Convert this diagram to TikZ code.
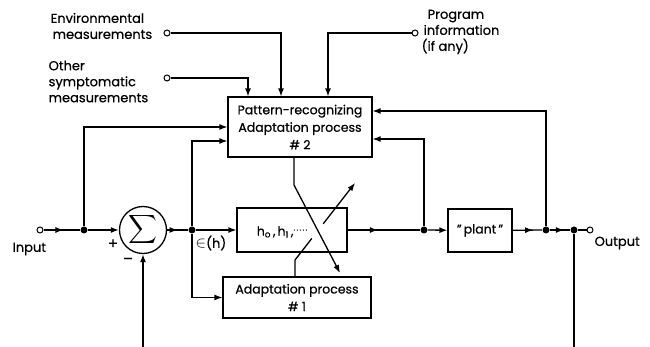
\documentclass[tikz,border=0pt]{standalone}
\usepackage{fontspec}
\setmainfont{Poppins}[FakeBold=0.6]
\usetikzlibrary{arrows.meta,decorations.markings,calc}
\begin{document}
\begin{tikzpicture}[x=1pt,y=-1pt,
  line width=1.3pt,
  tip/.style={-{Latex[length=8pt,width=6pt]}},
  mid/.style={postaction={decorate},decoration={markings,mark=at position #1 with {\arrow{Latex[length=8pt,width=6pt]}}}},
  dot/.style={circle,fill,inner sep=0pt,minimum size=7pt},
  term/.style={circle,draw,fill=white,inner sep=0pt,minimum size=6pt,line width=1pt},
  blk/.style={draw,rectangle,inner sep=0pt,line width=1.2pt},
  lbl/.style={font=\fontsize{13}{16}\selectfont, align=left, inner sep=0pt},
  blbl/.style={font=\fontsize{12.5}{17.5}\selectfont, align=center, inner sep=0pt}
]
\useasboundingbox (0,0) rectangle (650,347);
% main chain
\node[term] (in) at (40,230) {};
\node[dot] (d1) at (84,230) {};
\node[circle,draw,minimum size=47pt,inner sep=0pt] (sum) at (143,230) {\scalebox{2}{$\displaystyle\sum$}};
\node[dot] (d2) at (192,230) {};
\node[blk,minimum width=110pt,minimum height=44pt] (filt) at (292,230) {};
\node[blbl] (hlab) at (282,232) {h\textsubscript{o}\,,\,h\textsubscript{1}\,,\raisebox{5pt}{\fontsize{8}{8}\selectfont.\,.\,.\,.\,.}};
\node[dot] (d3) at (424,230) {};
\node[blk,blbl,minimum width=64pt,minimum height=43pt] (plant) at (480,230.5) {"\,plant\,"};
\node[dot] (d4) at (546,230) {};
\node[dot] (d5) at (574,230) {};
\node[term] (out) at (590,230) {};
% adaptation boxes
\node[blk,blbl,minimum width=144pt,minimum height=60pt] (ad2) at (300,127) {Pattern-recognizing\\Adaptation process\\\# 2};
\node[blk,blbl,minimum width=148pt,minimum height=41pt] (ad1) at (297,297.5) {Adaptation process\\\# 1};
% top inputs
\node[term] (env) at (167,33) {};
\node[term] (oth) at (167,78) {};
\node[term] (prog) at (415,33) {};
\node[lbl,anchor=west] (envl) at (50,26) {Environmental\\\hspace*{2pt}measurements};
\node[lbl,anchor=west] (othl) at (48,81.5) {Other\\symptomatic\\measurements};
\node[lbl,anchor=west] (progl) at (421,32) {\hspace*{6pt}Program\\\hspace*{2pt}information\\(if any)};
% labels
\node[lbl,anchor=west] (inl) at (12,249) {Input};
\node[lbl,anchor=west] (outl) at (594,243) {Output};
\node[lbl,font=\fontsize{15}{15}\selectfont] (plus) at (113,244) {+};
\node[lbl,font=\fontsize{15}{15}\selectfont] (minus) at (128,261) {–};
\node[lbl] (eps) at (211,243) {\scalebox{1.3}{$\in$}(h)};
% main connectors
\draw[mid=0.55] (in) -- (d1);
\draw[tip] (d1) -- (sum);
\draw[mid=0.5] (sum) -- (d2);
\draw[tip] (d2) -- (filt);
\draw[mid=0.42] (filt) -- (d3);
\draw[tip] (d3) -- (plant);
\draw[mid=0.7] (plant) -- (d4);
\draw[mid=0.7] (d4) -- (d5);
\draw (d5) -- (out);
% inputs to ad2
\draw[tip] (env) -| ([xshift=-19pt]ad2.north);
\draw[tip] (oth) -| ([xshift=-52pt]ad2.north);
\draw[tip] (prog) -| ([xshift=28pt]ad2.north);
\draw[tip] (d4) |- ([yshift=16pt]ad2.east);
\draw[tip] (d3) |- ([yshift=-12pt]ad2.east);
\draw[tip] (d1) |- (ad2.west);
\draw[tip] (d2) |- ([yshift=-14pt]ad2.west);
\draw[tip] (d2) |- (ad1.west);
% bottom lines
\coordinate (b1) at (143,347);
\coordinate (b2) at (574,347);
\draw[tip] (b1) -- (sum);
\draw (d5) -- (b2);
% adjustment arrows
\coordinate (a0) at ([xshift=-6pt]ad2.south);
\coordinate (abend) at (294,185);
\coordinate (atip) at (340,273);
\draw[tip] (a0) -- (abend) -- (atip);
\coordinate (bb0) at ([xshift=-2pt]ad1.north);
\coordinate (bbend) at (295,260);
\coordinate (btip) at (355,183);
\draw (bb0) -- (bbend) -- ($(bbend)!0.28!(btip)$);
\draw[tip] ($(bbend)!0.47!(btip)$) -- (btip);
\end{tikzpicture}
\end{document}
